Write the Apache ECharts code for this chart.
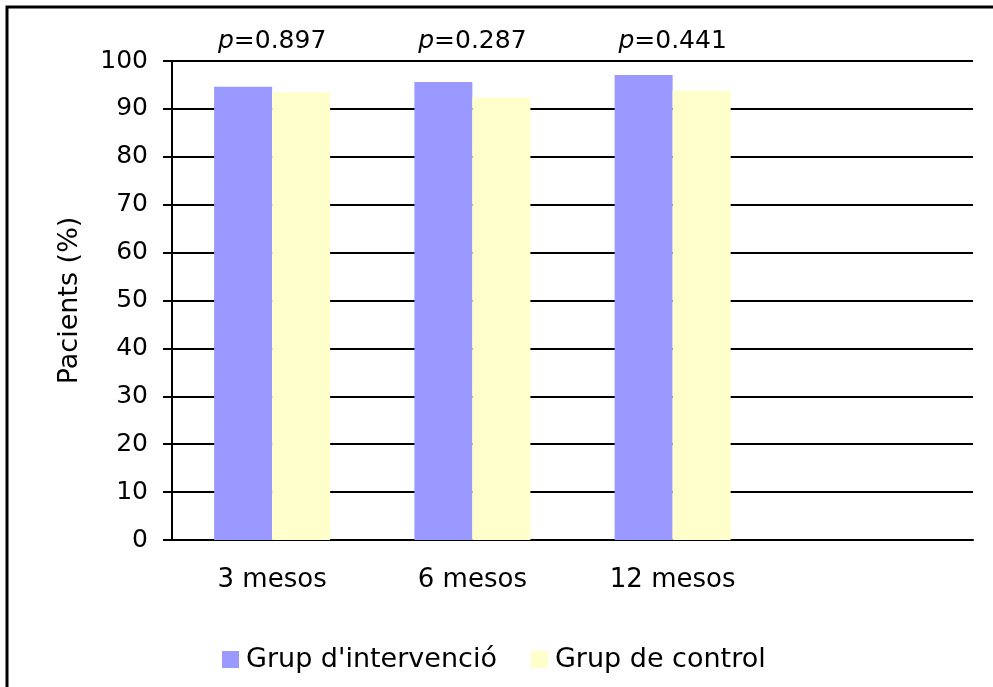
<!DOCTYPE html>
<html>
<head>
<meta charset="utf-8">
<script src="https://cdn.jsdelivr.net/npm/echarts@6/dist/echarts.min.js"></script>
<style>
  html, body { margin: 0; padding: 0; background: #fff; }
  #chart { width: 993px; height: 687px; }
</style>
</head>
<body>
<div id="chart"></div>
<script>
// dades
const categories = ['3 mesos', '6 mesos', '12 mesos', ''];
const intervencio = [94.6, 95.6, 97.1, null];
const control = [93.5, 92.4, 93.8, null];
const pValues = ['0.897', '0.287', '0.441', null];
const seriesNames = ["Grup d'intervenció", 'Grup de control'];

const FONT = '"DejaVu Sans", Verdana, sans-serif';

const chart = echarts.init(document.getElementById('chart'));

const option = {
  animation: false,
  textStyle: { fontFamily: FONT, color: '#000' },
  graphic: [{
    type: 'rect',
    shape: { x: 7, y: 7, width: 1000, height: 700 },
    style: { fill: 'none', stroke: '#000', lineWidth: 3 },
    z: 100
  }],
  grid: { left: 172, right: 20, top: 61, bottom: 147 },
  legend: {
    top: 641,
    left: 217,
    itemWidth: 17,
    itemHeight: 17,
    itemGap: 34,
    icon: 'rect',
    textStyle: { fontFamily: FONT, fontSize: 27, color: '#000', padding: [0, 0, 0, 2] },
    data: seriesNames
  },
  xAxis: {
    type: 'category',
    data: categories,
    axisLine: { lineStyle: { color: '#000', width: 2 } },
    axisTick: { length: 9, lineStyle: { color: '#000', width: 2 } },
    axisLabel: { margin: 27, fontSize: 26, color: '#000', fontFamily: FONT }
  },
  yAxis: {
    type: 'value',
    min: 0,
    max: 100,
    interval: 10,
    name: 'Pacients (%)',
    nameLocation: 'middle',
    nameGap: 89,
    nameTextStyle: { fontSize: 27, color: '#000', fontFamily: FONT },
    axisLine: { show: true, lineStyle: { color: '#000', width: 2 } },
    axisTick: { show: true, length: 9, lineStyle: { color: '#000', width: 2 } },
    axisLabel: { margin: 24, fontSize: 25, color: '#000', fontFamily: FONT },
    splitLine: { lineStyle: { color: '#000', width: 2 } }
  },
  series: [
    {
      name: seriesNames[0],
      type: 'bar',
      data: intervencio,
      barWidth: 58,
      barGap: '0%',
      itemStyle: { color: '#9999FF' }
    },
    {
      name: seriesNames[1],
      type: 'bar',
      data: control,
      barWidth: 58,
      barGap: '0%',
      itemStyle: { color: '#FFFFCC' }
    },
    {
      // etiquetes p
      name: 'p',
      type: 'scatter',
      symbolSize: 0,
      itemStyle: { opacity: 1 },
      data: pValues.map((p, i) => p === null ? null : [i, 100, p]),
      label: {
        show: true,
        position: 'top',
        distance: 7,
        color: '#000',
        formatter: (d) => '{i|p}{n|=' + d.value[2] + '}',
        rich: {
          i: { fontStyle: 'italic', fontSize: 25, color: '#000', fontFamily: FONT },
          n: { fontSize: 25, color: '#000', fontFamily: FONT }
        }
      },
      silent: true,
      z: 10
    }
  ]
};

chart.setOption(option);
window.addEventListener('resize', () => chart.resize());
</script>
</body>
</html>
